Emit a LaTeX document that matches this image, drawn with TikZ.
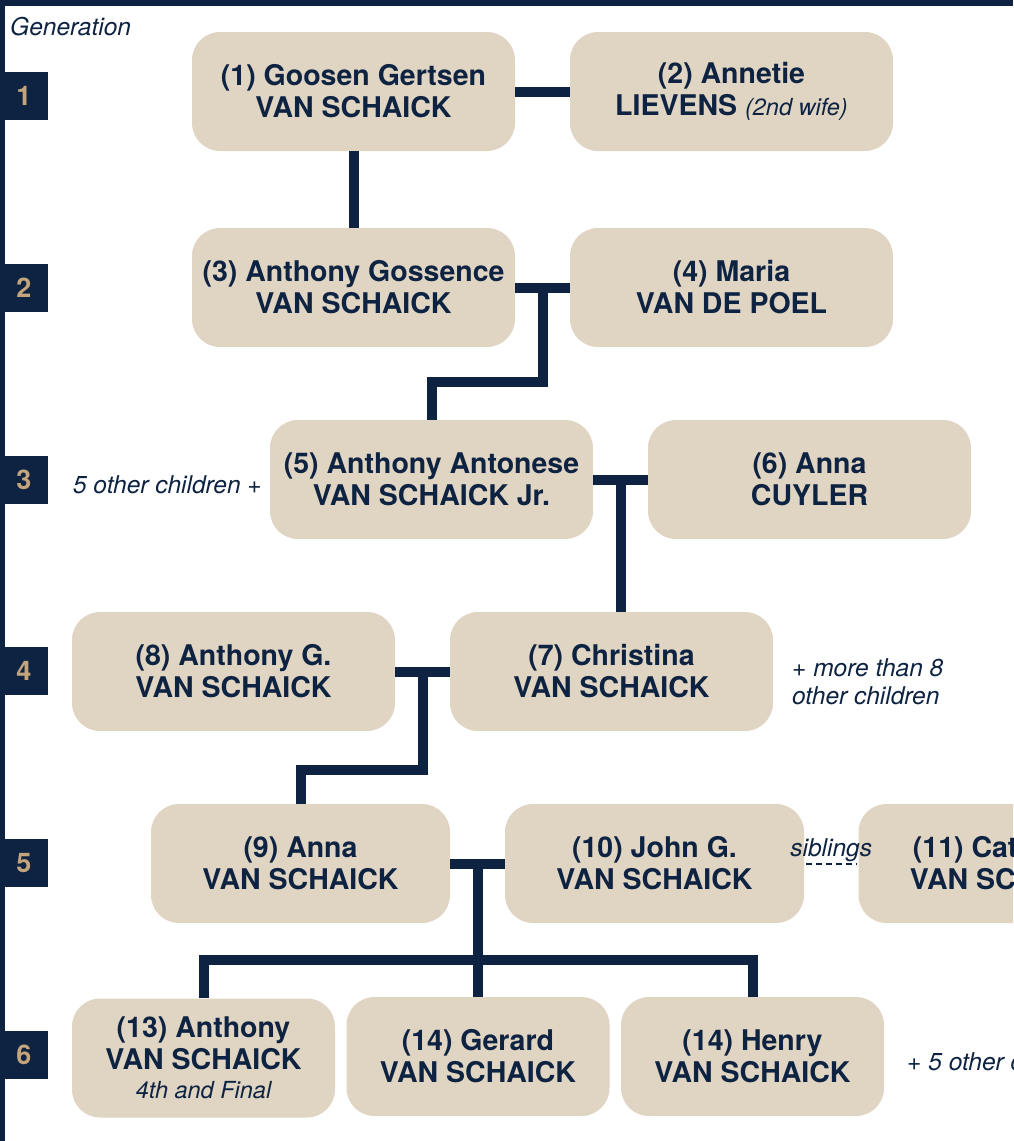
\documentclass[tikz,border=0pt]{standalone}
\usepackage{fontspec}
\setmainfont{TeX Gyre Heros}
\usetikzlibrary{calc}
\definecolor{navy}{HTML}{0D2341}
\definecolor{sand}{HTML}{E0D4C3}
\definecolor{gold}{HTML}{C3A47C}
\tikzset{
  person/.style={fill=sand, rounded corners=28pt, minimum width=323pt, minimum height=119pt,
    inner sep=0pt, align=center, text=navy, font=\fontsize{28.5}{32}\selectfont\bfseries},
  small/.style={person, minimum width=299pt},
  child/.style={person, minimum width=263pt},
  link/.style={draw=navy, line width=10pt},
  note/.style={text=navy, inner sep=0pt, font=\fontsize{24.5}{28}\selectfont\itshape},
  genbox/.style={fill=navy, text=gold, minimum size=48pt, inner sep=0pt,
    font=\fontsize{27}{30}\selectfont\bfseries},
}
\newcommand{\aside}[1]{{\mdseries\itshape\fontsize{23.5}{28}\selectfont #1}}

\begin{document}
\begin{tikzpicture}[x=1pt,y=-1pt]
    \useasboundingbox (0,0) rectangle (1013,1141);
    \clip (0,0) rectangle (1013,1141);
    \fill[navy] (0,0) rectangle (1013,6);
    \fill[navy] (0,0) rectangle (5,1141);
    \node[note, anchor=base west] (genlabel) at (10,35) {Generation};
    \foreach \g in {1,...,6} {
        \node[genbox] (g\g) at (24,{96+191.8*(\g-1)}) {\g};
    }

    \node[person] (n1) at (353.5,91.5) {(1) Goosen Gertsen\\VAN SCHAICK};
    \node[person] (n2) at (731.5,91.5) {(2) Annetie\\LIEVENS \aside{(2nd wife)}};
    \node[person] (n3) at (353.5,287.5) {(3) Anthony Gossence\\VAN SCHAICK};
    \node[person] (n4) at (731.5,287.5) {(4) Maria\\VAN DE POEL};
    \node[person] (n5) at (431.5,479.5) {(5) Anthony Antonese\\VAN SCHAICK Jr.};
    \node[person] (n6) at (809.5,479.5) {(6) Anna\\CUYLER};
    \node[person] (n8) at (233.5,671.5) {(8) Anthony G.\\VAN SCHAICK};
    \node[person] (n7) at (611.5,671.5) {(7) Christina\\VAN SCHAICK};
    \node[small] (n9) at (300.5,863.5) {(9) Anna\\VAN SCHAICK};
    \node[small] (n10) at (654.5,863.5) {(10) John G.\\VAN SCHAICK};
    \node[small] (n11) at (1008,863.5) {(11) Catharina\\VAN SCHAICK};
    \node[child] (n13) at (203.5,1058) {(13) Anthony\\VAN SCHAICK\\[-3pt]\aside{4th and Final}};
    \node[child] (n14) at (478,1056.5) {(14) Gerard\\VAN SCHAICK};
    \node[child] (n15) at (752.5,1056.5) {(14) Henry\\VAN SCHAICK};

    \node[note, anchor=east] (more5) at (262,485) {5 other children +};
    \node[note, anchor=west, align=left] (more7) at (792,682) {+ more than 8\\other children};
    \node[note, anchor=west] (more13) at (907,1062) {+ 5 other children};

    \coordinate (m34) at ($(n3.east)!.5!(n4.west)$);
    \coordinate (m56) at ($(n5.east)!.5!(n6.west)$);
    \coordinate (m87) at ($(n8.east)!.5!(n7.west)$);
    \coordinate (m910) at ($(n9.east)!.5!(n10.west)$);

    \draw[link] (n1.east) -- (n2.west);
    \draw[link] (n1.south) -- (n3.north);
    \draw[link] (n3.east) -- (n4.west);
    \draw[link] (m34) -- ++(0,94.5) -| (n5.north);
    \draw[link] (n5.east) -- (n6.west);
    \draw[link] (m56) -- (m56 |- n7.north);
    \draw[link] (n8.east) -- (n7.west);
    \draw[link] (m87) -- ++(0,98.5) -| (n9.north);
    \draw[link] (n9.east) -- (n10.west);
    \draw[link] (m910) -- (m910 |- n14.north);
    \draw[link] (n13.north) -- ++(0,-38.5) -| (n15.north);
    \draw[navy, line width=2pt, dash pattern=on 6pt off 4pt] ([xshift=2pt]n10.east) -- ([xshift=-2pt]n11.west)
        node[midway, above=1pt, note] (sib) {siblings};
\end{tikzpicture}
\end{document}
